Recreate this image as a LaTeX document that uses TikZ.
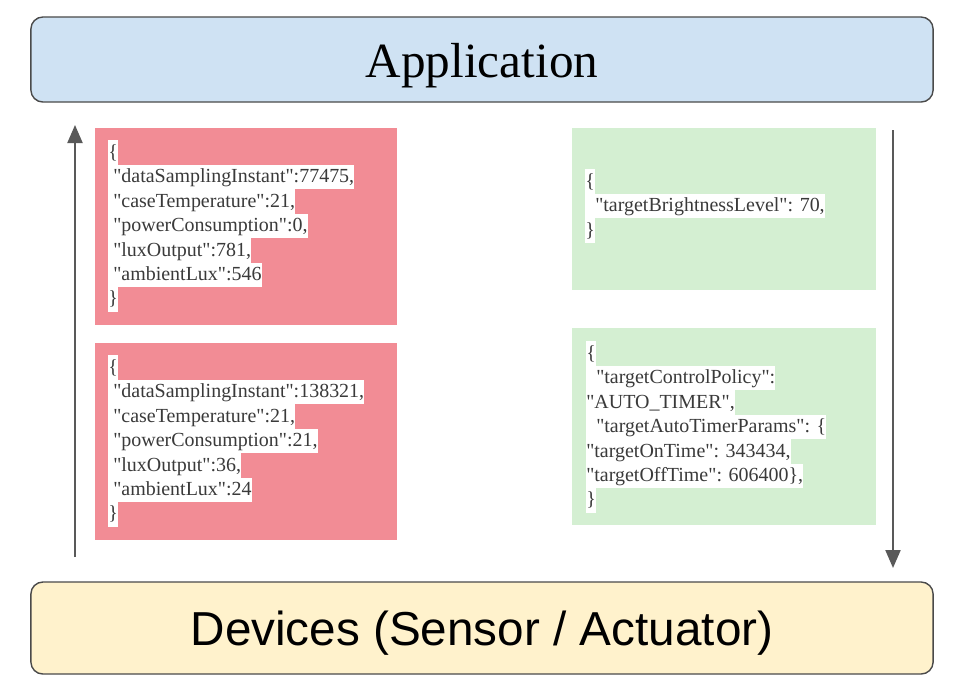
\documentclass[tikz,border=0pt]{standalone}
\usepackage{fontspec}
\setmainfont{Liberation Serif}
\newfontfamily\jsonfont{Liberation Serif}[Ligatures=TeXOff]
\newfontfamily\devfont{Liberation Sans}
\usetikzlibrary{arrows.meta, positioning}

\definecolor{appblue}{HTML}{CFE2F3}
\definecolor{devyellow}{HTML}{FFF2CC}
\definecolor{uppink}{HTML}{F28C95}
\definecolor{downgreen}{HTML}{D4EFD2}
\definecolor{edgegray}{HTML}{4A4A4A}
\definecolor{arrowgray}{HTML}{595959}
\definecolor{jsongray}{HTML}{3A3A3A}

% white highlight behind each line of the payloads
\setlength{\fboxsep}{0pt}
\newcommand{\hl}[1]{\colorbox{white}{\rule[-4.7pt]{0pt}{17.4pt}#1}}

\begin{document}
\begin{tikzpicture}[
    x=0.025cm, y=-0.025cm,
    layer/.style={draw=edgegray, line width=1pt, rounded corners=0.3cm, minimum width=22.55cm, align=center, text depth=0pt},
    msgbox/.style={minimum width=7.55cm, inner sep=0pt, anchor=north west},
    json/.style={anchor=north west, inner sep=0pt, align=left, text=jsongray, font=\jsonfont\fontsize{14.2}{17.4}\selectfont},
    flow/.style={draw=arrowgray, line width=1.4pt, -{Triangle[length=12.8pt, width=10.7pt]}}
]
    \useasboundingbox (0,0) rectangle (958,687);

    % Layers
    \node[layer, fill=appblue, minimum height=2.125cm, text height=24.9pt, font=\fontsize{35}{40}\selectfont] (app) at (482,59.5) {Application};
    \node[layer, fill=devyellow, minimum height=2.3cm, text height=24.2pt, font=\devfont\fontsize{33.9}{40}\selectfont] (dev) at (482,628) {Devices (Sensor / Actuator)};

    % Upstream messages
    \node[msgbox, fill=uppink, minimum height=4.925cm] (up1) at (95,128) {};
    \node[msgbox, fill=uppink, minimum height=4.925cm] (up2) at (95,343) {};
    \node[json] (up1txt) at ([shift={(13,12)}]up1.north west) {%
        \hl{\{}\\
        \hl{\ "dataSamplingInstant":77475,}\\
        \hl{\ "caseTemperature":21,}\\
        \hl{\ "powerConsumption":0,}\\
        \hl{\ "luxOutput":781,}\\
        \hl{\ "ambientLux":546}\\
        \hl{\}}};
    \node[json] (up2txt) at ([shift={(13,12)}]up2.north west) {%
        \hl{\{}\\
        \hl{\ "dataSamplingInstant":138321,}\\
        \hl{\ "caseTemperature":21,}\\
        \hl{\ "powerConsumption":21,}\\
        \hl{\ "luxOutput":36,}\\
        \hl{\ "ambientLux":24}\\
        \hl{\}}};

    % Downstream commands
    \node[msgbox, fill=downgreen, minimum width=7.6cm, minimum height=4.05cm] (down1) at (572,128) {};
    \node[msgbox, fill=downgreen, minimum width=7.6cm, minimum height=4.925cm] (down2) at (572,328) {};
    \node[json] (down1txt) at ([shift={(13,41)}]down1.north west) {%
        \hl{\{}\\
        \hl{\ \ "targetBrightnessLevel": 70,}\\
        \hl{\}}};
    \node[json] (down2txt) at ([shift={(14,13)}]down2.north west) {%
        \hl{\{}\\
        \hl{\ \ "targetControlPolicy":}\\
        \hl{"AUTO\_TIMER",}\\
        \hl{\ \ "targetAutoTimerParams": \{}\\
        \hl{"targetOnTime": 343434,}\\
        \hl{"targetOffTime": 606400\},}\\
        \hl{\}}};

    % Arrows
    \coordinate (upfrom) at (75,557);
    \coordinate (upto) at (75,125);
    \coordinate (downfrom) at (893,130);
    \coordinate (downto) at (893,568);
    \draw[flow] (upfrom) -- (upto);
    \draw[flow] (downfrom) -- (downto);
\end{tikzpicture}
\end{document}
